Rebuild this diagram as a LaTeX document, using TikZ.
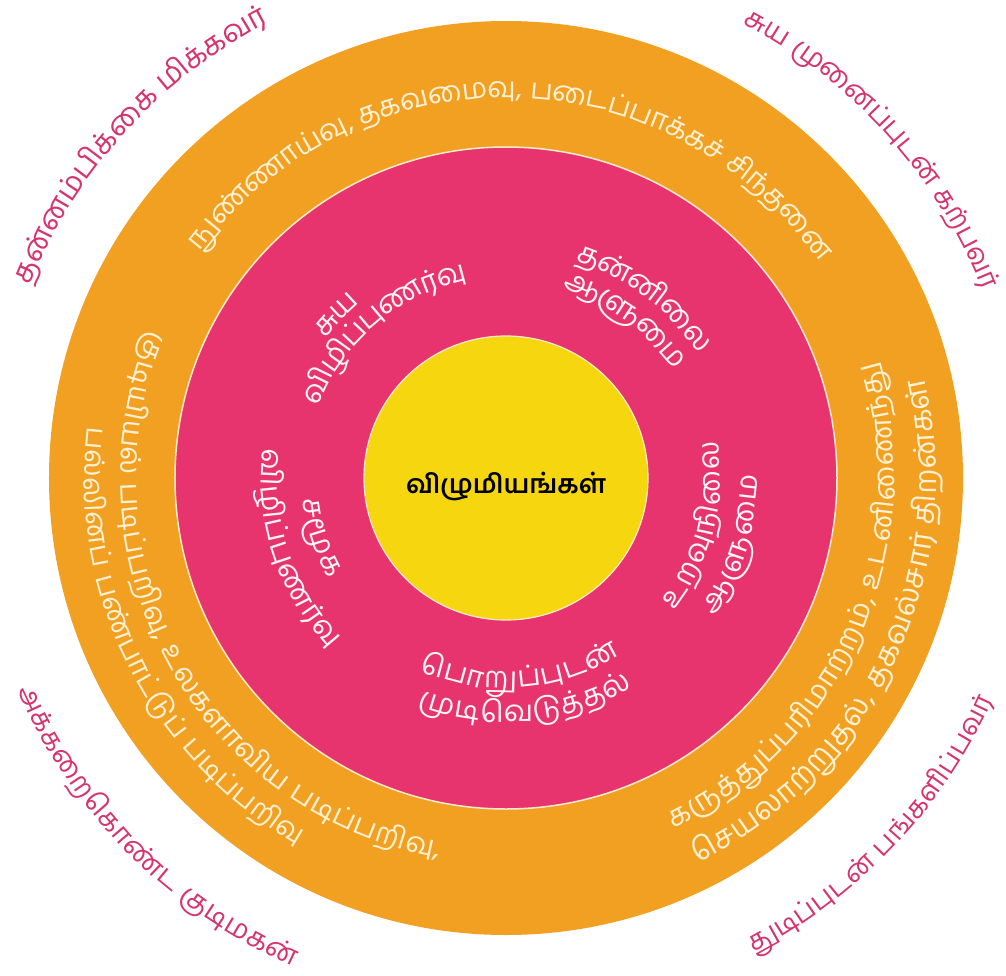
\documentclass[tikz,border=0pt]{standalone}
\usepackage{fontspec}
\usepackage{graphicx}
\newfontfamily\tf[Script=Tamil]{Hind Madurai}
\definecolor{ringorange}{RGB}{242,160,34}
\definecolor{ringpink}{RGB}{232,52,110}
\definecolor{coreyellow}{RGB}{246,214,14}
\definecolor{edgecream}{RGB}{252,236,205}
\definecolor{outtxt}{RGB}{214,52,110}
\definecolor{ringtxt}{RGB}{255,241,212}
\definecolor{pinktxt}{RGB}{255,244,246}
\newdimen\cw
\newdimen\tw
\newdimen\cum
\newcommand\gp{\kern0.28em}
\newcommand\measuretxt[1]{\pgfinterruptpicture\setbox0=\hbox{#1}\global\cw=\wd0\endpgfinterruptpicture}
\tikzset{
  glyph/.style={anchor=base,inner sep=0pt,outer sep=0pt},
  disc/.style={circle,inner sep=0pt,outer sep=0pt}
}
% #1 name, #2 centre radius, #3 mid angle, #4 dir (1: tops inward, -1: tops outward), #5 size, #6 extra, #7 list
\newcommand\arcplace[7]{%
  \global\tw=0pt
  \foreach \syl in {#7}{\measuretxt{\tf\fontsize{#5}{#5}\selectfont#6\syl}\global\advance\tw by\cw}%
  \pgfmathsetmacro\rad{(#2)+(#4)*0.27*(#5)}%
  \pgfmathsetmacro\startang{(#3)-(#4)*0.5*\tw/(#2)*57.29578}%
  \global\cum=0pt
  \foreach \syl [count=\i] in {#7}{%
    \measuretxt{\tf\fontsize{#5}{#5}\selectfont#6\syl}%
    \pgfmathsetmacro\ang{\startang+(#4)*(\cum+0.5*\cw)/(#2)*57.29578}%
    \pgfmathsetmacro\rot{\ang+(#4)*90}%
    \node[glyph,name=#1-\i,rotate=\rot] at (\ang:\rad) {\tf\fontsize{#5}{#5}\selectfont#6\syl};%
    \global\advance\cum by\cw
  }%
}
% #1 name, #2 centre radius, #3 start angle, #4 end angle, #5 dir, #6 extra, #7 list
\newcommand\arcfit[7]{%
  \global\tw=0pt
  \foreach \syl in {#7}{\measuretxt{\tf\fontsize{20}{24}\selectfont#6\syl}\global\advance\tw by\cw}%
  \pgfmathsetmacro\atlen{(#2)/57.29578*abs((#4)-(#3))}%
  \pgfmathsetmacro\atfs{20*(\atlen/\tw)}%
  \pgfmathsetmacro\atmid{((#3)+(#4))/2}%
  \xdef\lastfs{\atfs}%
  \arcplace{#1}{#2}{\atmid}{#5}{\atfs}{#6}{#7}%
}
\begin{document}
\begin{tikzpicture}[x=1pt,y=1pt]
\useasboundingbox (-506,-497) rectangle (500,478);
\node (outer) [disc,fill=ringorange,minimum size=914pt] at (0,0) {};
\node (middle) [disc,fill=ringpink,draw=edgecream,line width=1.5pt,minimum size=662pt] at (0,0) {};
\node (core) [disc,fill=coreyellow,draw=edgecream,line width=1.2pt,minimum size=284pt] at (0,0) {};
\node (title) [anchor=base] at (0,-15) {\resizebox{200pt}{!}{\tf\bfseries விழுமியங்கள்}};
% outer labels
\arcfit{ol1}{522}{158}{117.5}{-1}{\color{outtxt}}{த,ன்,ன,ம்,பி,க்,கை\gp,மி,க்,க,வ,ர்}
\arcfit{ol2}{520}{62.5}{21.5}{-1}{\color{outtxt}}{சு,ய\gp,மு,னை,ப்,பு,ட,ன்\gp,க,ற்,ப,வ,ர்}
\arcfit{ol3}{525}{203.5}{246.5}{1}{\color{outtxt}}{அ,க்,க,றை,கொ,ண்,ட\gp,கு,டி,ம,க,ன்}
\arcfit{ol4}{528}{-62.5}{-24.5}{1}{\color{outtxt}}{து,டி,ப்,பு,ட,ன்\gp,ப,ங்,க,ளி,ப்,ப,வ,ர்}
% orange ring
\arcfit{or1}{388}{143.5}{34.5}{-1}{\color{ringtxt}}{நு,ண்,ணா,ய்,{வு,\gp},த,க,வ,மை,{வு,\gp},ப,டை,ப்,பா,க்,க,ச்\gp,சி,ந்,த,னை}
\arcfit{or2}{378}{157.5}{260}{1}{\color{ringtxt}}{கு,டி,யி,ய,ல்\gp,ப,டி,ப்,ப,றி,{வு,\gp},உ,ல,க,ளா,வி,ய\gp,ப,டி,ப்,ப,றி,{வு,}}
\arcfit{or3}{414}{173}{240.5}{1}{\color{ringtxt}}{ப,ல்,லி,ன,ப்\gp,ப,ண்,பா,ட்,டு,ப்\gp,ப,டி,ப்,ப,றி,வு}
\arcfit{or4}{380}{-64.5}{17.5}{1}{\color{ringtxt}}{க,ரு,த்,து,ப்,ப,ரி,மா,ற்,ற,{ம்,\gp},உ,ட,னி,ணை,ந்,து}
\arcfit{or5}{422}{-63.5}{13.5}{1}{\color{ringtxt}}{செ,ய,லா,ற்,று,த,{ல்,\gp},த,க,வ,ல்,சா,ர்\gp,தி,ற,ன்,க,ள்}
% pink ring
\arcfit{pk1}{209}{159}{101}{-1}{\color{pinktxt}}{வி,ழி,ப்,பு,ண,ர்,வு}
\arcplace{pk2}{236}{136}{-1}{\lastfs}{\color{pinktxt}}{சு,ய}
\arcplace{pk3}{236}{52.5}{-1}{\lastfs}{\color{pinktxt}}{த,ன்,னி,லை}
\arcplace{pk4}{206}{53}{-1}{\lastfs}{\color{pinktxt}}{ஆ,ளு,மை}
\arcplace{pk5}{206}{-14.1}{1}{\lastfs}{\color{pinktxt}}{உ,ற,வு,நி,லை}
\arcplace{pk6}{243}{-16.4}{1}{\lastfs}{\color{pinktxt}}{ஆ,ளு,மை}
\arcplace{pk7}{202}{274.3}{1}{\lastfs}{\color{pinktxt}}{பொ,று,ப்,பு,ட,ன்}
\arcplace{pk8}{236}{275.1}{1}{\lastfs}{\color{pinktxt}}{மு,டி,வெ,டு,த்,த,ல்}
\arcplace{pk9}{196}{197.7}{1}{\lastfs}{\color{pinktxt}}{ச,மூ,க}
\arcplace{pk10}{237}{198.5}{1}{\lastfs}{\color{pinktxt}}{வி,ழி,ப்,பு,ண,ர்,வு}
\end{tikzpicture}
\end{document}
